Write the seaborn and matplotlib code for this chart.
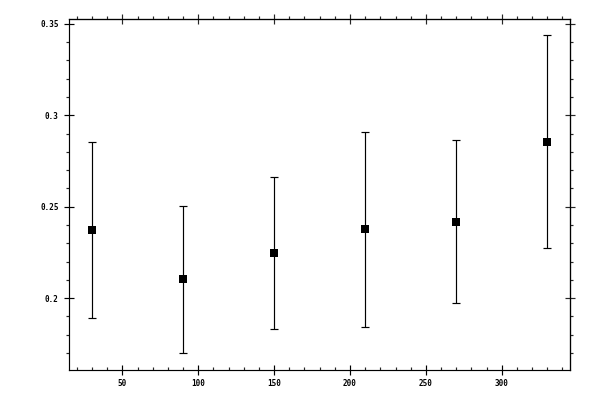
import matplotlib
matplotlib.use("Agg")
import matplotlib.pyplot as plt
import seaborn as sns
import pandas as pd
from matplotlib.ticker import MultipleLocator, FuncFormatter

# data
x_vals = [30, 90, 150, 210, 270, 330]
y_vals = [0.2375, 0.2103, 0.2245, 0.2378, 0.2418, 0.2855]
y_upper = [0.2853, 0.2503, 0.2661, 0.2910, 0.2863, 0.3442]
y_lower = [0.1891, 0.1701, 0.1832, 0.1840, 0.1971, 0.2276]

df = pd.DataFrame({"x": x_vals, "y": y_vals})
err_lo = [y - lo for y, lo in zip(y_vals, y_lower)]
err_hi = [hi - y for y, hi in zip(y_vals, y_upper)]

sns.set_style("white")
plt.rcParams['font.family'] = ['DejaVu Sans Mono', 'DejaVu Sans']
plt.rcParams['font.weight'] = 'bold'

LW = 0.85

fig = plt.figure(figsize=(6, 4), dpi=100)
ax = fig.add_axes([0.1155, 0.075, 0.95 - 0.1155, 0.9525 - 0.075])

ax.errorbar(x_vals, y_vals, yerr=[err_lo, err_hi], fmt='none', ecolor='black',
            elinewidth=LW, capsize=2.6, capthick=LW, zorder=2)
sns.scatterplot(data=df, x="x", y="y", marker='s', s=38, color='black',
                edgecolor='black', linewidth=0, ax=ax, zorder=3)

ax.set_xlim(15, 345)
ax.set_ylim(0.1607, 0.3527)
ax.set_xlabel("")
ax.set_ylabel("")

for sp in ax.spines.values():
    sp.set_visible(True)
    sp.set_color('black')
    sp.set_linewidth(LW)

fmt = FuncFormatter(lambda v, p: f"{v:g}")
ax.xaxis.set_major_locator(MultipleLocator(50))
ax.xaxis.set_minor_locator(MultipleLocator(10))
ax.yaxis.set_major_locator(MultipleLocator(0.05))
ax.yaxis.set_minor_locator(MultipleLocator(0.01))
ax.yaxis.set_major_formatter(fmt)
ax.xaxis.set_major_formatter(fmt)

ax.tick_params(axis='both', which='major', direction='inout', length=6.5, width=LW,
               labelsize=5.5, color='black', labelcolor='black')
ax.tick_params(axis='y', which='major', pad=4.5)
ax.tick_params(axis='x', which='major', pad=3.5)
ax.tick_params(axis='x', which='minor', direction='in', length=2.5, width=LW,
               bottom=True, top=False)
ax.tick_params(axis='y', which='minor', direction='out', length=2.5, width=LW,
               left=True, right=False)
ax.tick_params(axis='x', which='major', bottom=True, top=False)
ax.tick_params(axis='y', which='major', left=True, right=False)

# top and right axes with their own tick styles
secx = ax.secondary_xaxis('top')
secx.xaxis.set_major_locator(MultipleLocator(50))
secx.xaxis.set_minor_locator(MultipleLocator(10))
secx.tick_params(which='major', direction='inout', length=6.5, width=LW, labeltop=False)
secx.tick_params(which='minor', direction='out', length=2.5, width=LW)
secx.spines['top'].set_linewidth(LW)

secy = ax.secondary_yaxis('right')
secy.yaxis.set_major_locator(MultipleLocator(0.05))
secy.yaxis.set_minor_locator(MultipleLocator(0.01))
secy.tick_params(which='major', direction='inout', length=6.5, width=LW, labelright=False)
secy.tick_params(which='minor', direction='out', length=2.5, width=LW)
secy.spines['right'].set_linewidth(LW)

fig.savefig("out.png", dpi=100)
